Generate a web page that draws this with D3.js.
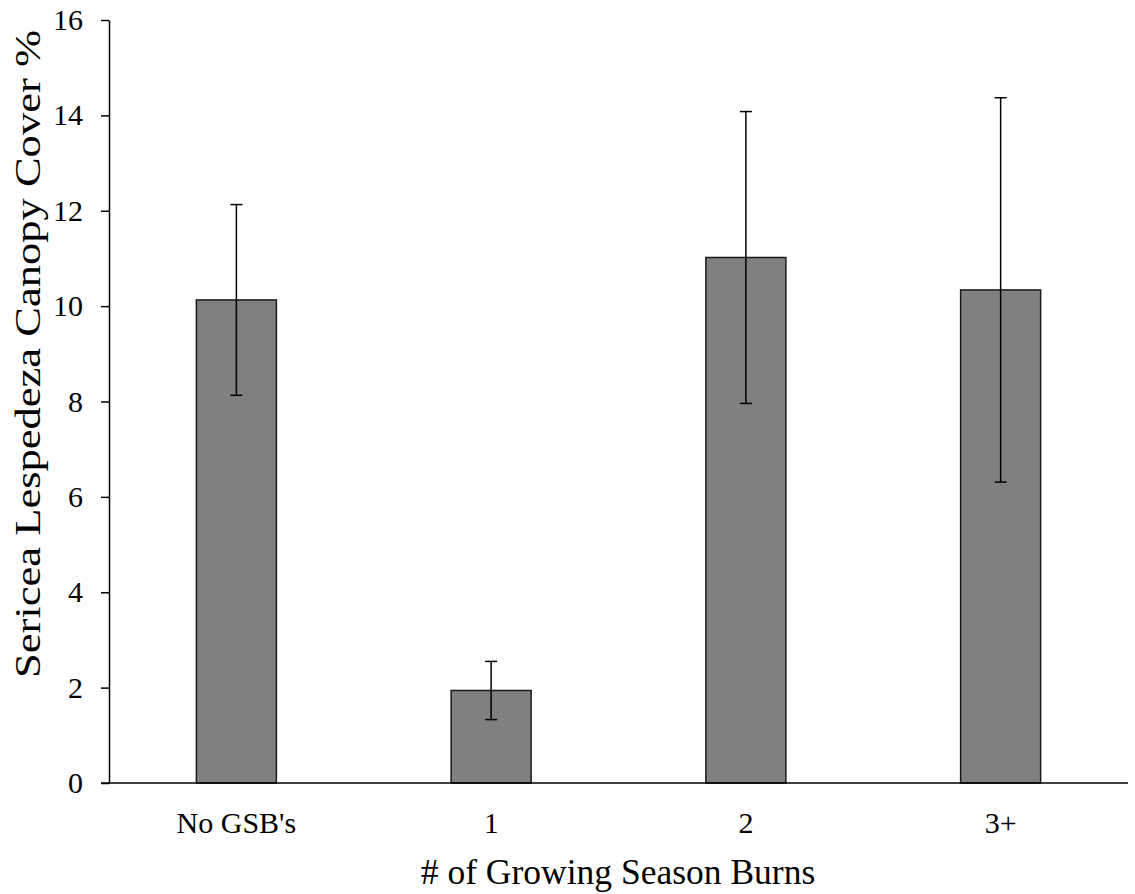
<!DOCTYPE html>
<html>
<head>
<meta charset="utf-8">
<script src="https://cdn.jsdelivr.net/npm/d3@7"></script>
<style>
  body { margin: 0; background: #fff; }
  svg { display: block; }
  .axis text { font-family: "Liberation Serif", "Times New Roman", serif; font-size: 30px; fill: #000; }
  .axis.x text { font-size: 30px; }
  .axis path, .axis line { stroke: #000; stroke-width: 1.5px; }
  .title { font-family: "Liberation Serif", "Times New Roman", serif; font-size: 35.5px; fill: #000; }
</style>
</head>
<body>
<div id="chart"></div>
<script>
var categories = ["No GSB's", "1", "2", "3+"];
var cover = [10.13, 1.94, 11.02, 10.34];
var errors = [2.0, 0.61, 3.06, 4.03];
var yTicks = [0, 2, 4, 6, 8, 10, 12, 14, 16];

var width = 1135, height = 894;
var margin = {top: 20, right: 7, bottom: 111, left: 109};

var svg = d3.select("#chart").append("svg")
  .attr("width", width)
  .attr("height", height);

var x = d3.scaleBand()
  .domain(categories)
  .range([margin.left, width - margin.right])
  .paddingInner(0.686)
  .paddingOuter(0.343);

var y = d3.scaleLinear()
  .domain([0, 16])
  .range([height - margin.bottom, margin.top]);

var data = categories.map(function(c, i) {
  return {cat: c, value: cover[i], err: errors[i]};
});

// bars
svg.append("g").selectAll("rect")
  .data(data)
  .enter().append("rect")
  .attr("x", d => x(d.cat))
  .attr("y", d => y(d.value))
  .attr("width", x.bandwidth())
  .attr("height", d => y(0) - y(d.value))
  .attr("fill", "#808080")
  .attr("stroke", "#1a1a1a")
  .attr("stroke-width", 1.5);

// error bars
var eb = svg.append("g").selectAll("g")
  .data(data)
  .enter().append("g")
  .attr("stroke", "#000")
  .attr("stroke-width", 1.5);

var cx = d => x(d.cat) + x.bandwidth() / 2;
var cap = 6;

eb.append("line")
  .attr("x1", cx).attr("x2", cx)
  .attr("y1", d => y(d.value + d.err))
  .attr("y2", d => y(d.value - d.err));
eb.append("line")
  .attr("x1", d => cx(d) - cap).attr("x2", d => cx(d) + cap)
  .attr("y1", d => y(d.value + d.err)).attr("y2", d => y(d.value + d.err));
eb.append("line")
  .attr("x1", d => cx(d) - cap).attr("x2", d => cx(d) + cap)
  .attr("y1", d => y(d.value - d.err)).attr("y2", d => y(d.value - d.err));

// y axis
svg.append("g")
  .attr("class", "axis y")
  .attr("transform", "translate(" + margin.left + ",0)")
  .call(d3.axisLeft(y).tickValues(yTicks).tickSize(8).tickSizeOuter(0).tickPadding(18));

// x axis
var xAxis = svg.append("g")
  .attr("class", "axis x")
  .attr("transform", "translate(0," + y(0) + ")")
  .call(d3.axisBottom(x).tickSize(0).tickPadding(0));
xAxis.select(".domain").attr("d", "M" + (margin.left - 8) + ",0H" + (width - margin.right));
xAxis.selectAll("text").attr("dy", null).attr("y", 50);

// titles
svg.append("text")
  .attr("class", "title")
  .attr("x", 618)
  .attr("y", 884)
  .attr("text-anchor", "middle")
  .text("# of Growing Season Burns");

svg.append("text")
  .attr("class", "title")
  .attr("transform", "translate(40,354) rotate(-90)")
  .attr("text-anchor", "middle")
  .attr("font-size", "36px")
  .attr("textLength", 648)
  .attr("lengthAdjust", "spacingAndGlyphs")
  .text("Sericea Lespedeza Canopy Cover %");
</script>
</body>
</html>
